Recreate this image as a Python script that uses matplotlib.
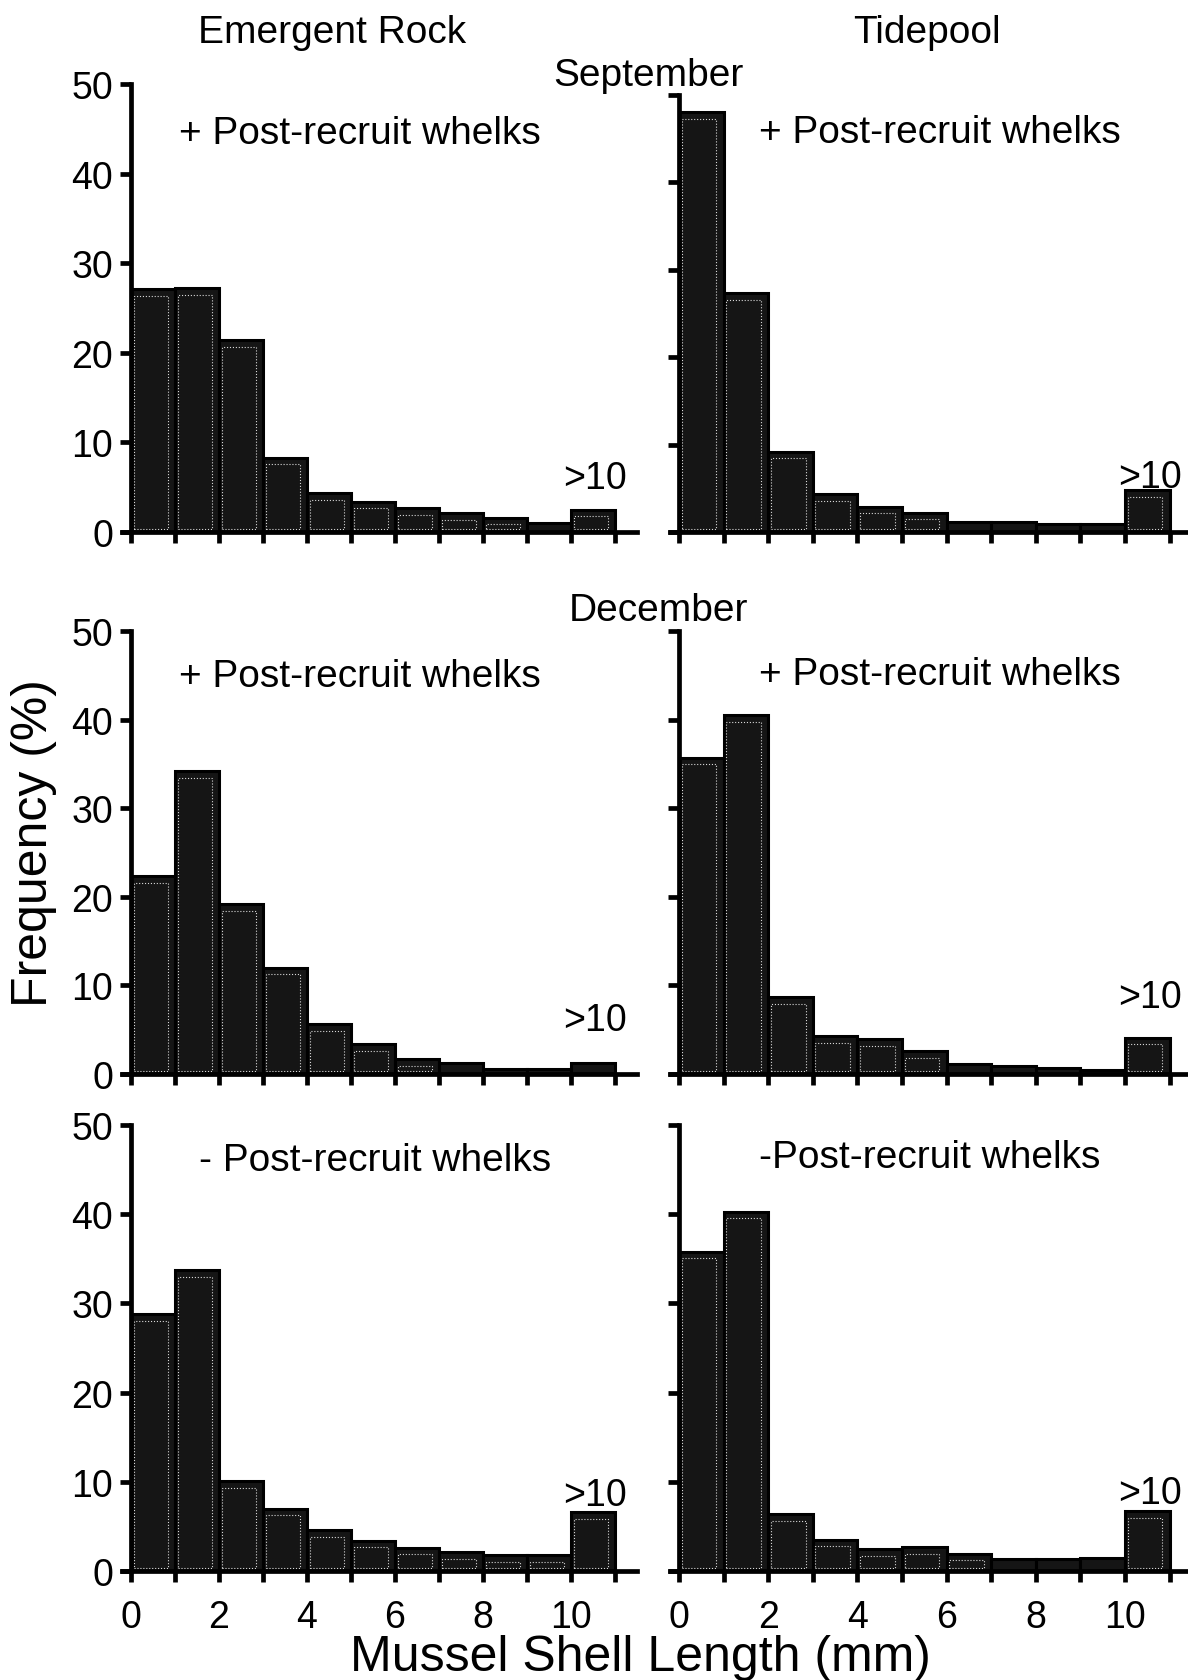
import matplotlib
matplotlib.use('Agg')
import matplotlib.pyplot as plt
import numpy as np

plt.rcParams['font.family'] = ['Liberation Sans', 'DejaVu Sans']

# size classes: 0-1, 1-2, ... 9-10 mm and >10 mm
bin_left = np.arange(11)
xtick_labels = ['0', '', '2', '', '4', '', '6', '', '8', '', '10', '']
ytick_values = [0, 10, 20, 30, 40, 50]

sep_rock = [27.1, 27.2, 21.4, 8.3, 4.3, 3.4, 2.7, 2.1, 1.6, 1.0, 2.5]
sep_pool = [48.0, 27.3, 9.2, 4.3, 2.9, 2.2, 1.2, 1.1, 0.9, 0.9, 4.8]
dec_rock = [22.3, 34.2, 19.2, 12.0, 5.6, 3.4, 1.7, 1.2, 0.6, 0.6, 1.2]
dec_pool = [35.7, 40.5, 8.7, 4.3, 3.9, 2.6, 1.1, 0.9, 0.7, 0.45, 4.1]
rem_rock = [28.8, 33.7, 10.1, 7.0, 4.6, 3.4, 2.6, 2.1, 1.8, 1.8, 6.6]
rem_pool = [35.8, 40.3, 6.4, 3.5, 2.45, 2.7, 1.95, 1.3, 1.3, 1.45, 6.7]

panel_notes = ['+ Post-recruit whelks', '+ Post-recruit whelks',
               '+ Post-recruit whelks', '+ Post-recruit whelks',
               '- Post-recruit whelks', '-Post-recruit whelks']

W, H = 1188, 1681
fig = plt.figure(figsize=(W / 100, H / 100), dpi=100)


def make_axes(x0, ppu, y0, y50, xmax):
    # x0/y0: pixel position of the data origin, y50: pixel row of 50 %
    xmin = -0.2
    left = x0 + xmin * ppu
    width = (xmax - xmin) * ppu
    ax = fig.add_axes([left / W, 1 - y0 / H, width / W, (y0 - y50) / H])
    ax.set_xlim(xmin, xmax)
    ax.set_ylim(0, 50)
    return ax


def draw_hist(ax, vals, show_ylabels, show_xlabels):
    ax.bar(bin_left, vals, width=1.0, align='edge', color='#151515',
           edgecolor='black', linewidth=2.2, zorder=2)
    vals = np.asarray(vals)
    tall = vals > 1.5
    # light inner outline of each bar
    ax.bar(bin_left[tall] + 0.06, vals[tall] - 1.1, bottom=0.35, width=0.78,
           align='edge', fill=False, edgecolor='#d8d8d8', linewidth=0.8,
           linestyle=':', zorder=3)
    for s in ['top', 'right']:
        ax.spines[s].set_visible(False)
    ax.spines['left'].set_position(('data', 0))
    ax.spines['left'].set_bounds(0, 50)
    for s in ['left', 'bottom']:
        ax.spines[s].set_linewidth(3.4)
        ax.spines[s].set_zorder(4)
    ax.set_yticks(ytick_values)
    ax.set_xticks(range(12))
    ax.set_xticklabels(xtick_labels if show_xlabels else [''] * 12)
    if not show_ylabels:
        ax.set_yticklabels([''] * len(ytick_values))
    ax.tick_params(direction='out', length=8, width=3.4, labelsize=27, pad=5)
    ax.tick_params(axis='x', pad=12)


panels = [
    (sep_rock, 131, 44.0, 533, 85, 11.5),
    (sep_pool, 679, 44.6, 533, 96, 11.45),
    (dec_rock, 131, 44.0, 1075, 632, 11.5),
    (dec_pool, 679, 44.6, 1075, 632, 11.45),
    (rem_rock, 131, 44.0, 1572, 1126, 11.5),
    (rem_pool, 679, 44.6, 1572, 1126, 11.45),
]
note_x = [1.1, 1.8, 1.1, 1.8, 1.55, 1.8]
note_y = [43.4, 44.6, 43.8, 44.0, 45.0, 45.3]
gt10_y = [4.9, 5.1, 5.0, 7.6, 7.4, 7.6]

for i, (vals, x0, ppu, y0, y50, xmax) in enumerate(panels):
    ax = make_axes(x0, ppu, y0, y50, xmax)
    draw_hist(ax, vals, show_ylabels=(i % 2 == 0), show_xlabels=(i >= 4))
    ax.text(note_x[i], note_y[i], panel_notes[i], fontsize=28,
            ha='left', va='baseline')
    ax.text(10.55, gt10_y[i], '>10', fontsize=27, ha='center', va='baseline')

fig.text(332 / W, 1 - 43 / H, 'Emergent Rock', fontsize=28,
         ha='center', va='baseline')
fig.text(927 / W, 1 - 43 / H, 'Tidepool', fontsize=28,
         ha='center', va='baseline')
fig.text(648 / W, 1 - 86 / H, 'September', fontsize=28,
         ha='center', va='baseline')
fig.text(659 / W, 1 - 621 / H, 'December', fontsize=28,
         ha='center', va='baseline')
fig.text(34 / W, 1 - 843 / H, 'Frequency (%)', fontsize=36,
         rotation=90, ha='center', va='center')
fig.text(640 / W, 1 - 1671 / H, 'Mussel Shell Length (mm)', fontsize=36,
         ha='center', va='baseline')

fig.savefig('out.png', dpi=100, facecolor='white')
